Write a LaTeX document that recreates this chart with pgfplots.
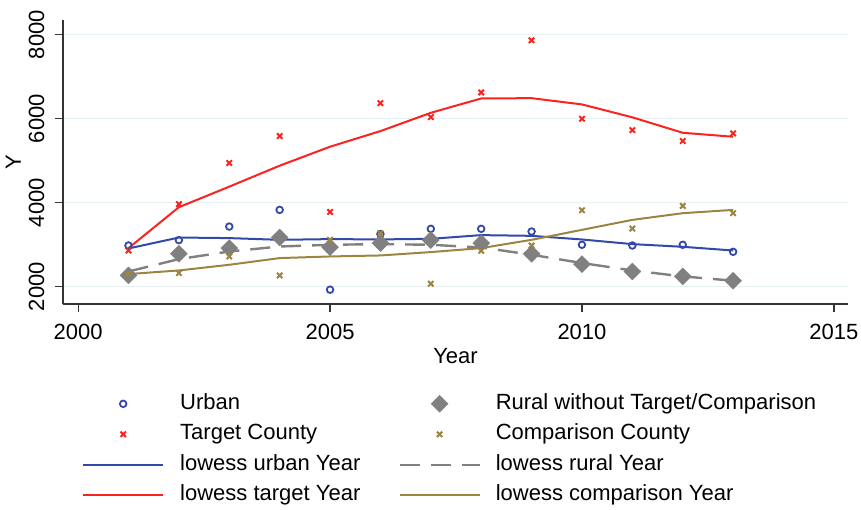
\documentclass[border=0pt]{standalone}
\usepackage{fontspec}
\setmainfont{Liberation Sans}
\usepackage{pgfplots}
\pgfplotsset{compat=1.18}
\definecolor{urb}{RGB}{52,72,170}
\definecolor{tgt}{RGB}{250,35,30}
\definecolor{rur}{RGB}{128,128,128}
\definecolor{cmp}{RGB}{156,132,66}
\definecolor{grd}{RGB}{232,241,244}
\newcommand\fs{\fontsize{22}{26}\selectfont}

\begin{document}
\begin{tikzpicture}
\path[use as bounding box] (-63pt,-205pt) rectangle (798pt,304pt);
\begin{axis}[
  at={(0pt,0pt)}, anchor=south west,
  scale only axis, width=785pt, height=284pt,
  xmin=1999.7, xmax=2015.28, ymin=1588, ymax=8350,
  axis lines=left, axis line style={-, line width=1.2pt, black!80},
  xtick={2000,2005,2010,2015}, ytick={2000,4000,6000,8000},
  tick align=outside, major tick length=8pt,
  tick style={line width=1.2pt, black!80},
  ymajorgrids, grid style={grd, line width=1.5pt},
  /pgf/number format/1000 sep={}, /pgf/number format/assume math mode=true,
  ticklabel style={font=\fs},
  xticklabel style={anchor=base, yshift=-27pt},
  yticklabel style={rotate=90, anchor=base, yshift=11pt},
  xlabel=Year, ylabel=Y, label style={font=\fs},
  xlabel style={at={(axis description cs:0.5,0)}, anchor=base, yshift=-59pt},
  ylabel style={at={(axis description cs:0,0.5)}, anchor=base, yshift=42pt},
  legend image code/.code={%
    \draw[mark repeat=2,mark phase=2,#1] plot coordinates {(0pt,0pt) (40pt,0pt) (80pt,0pt)};},
  legend columns=2, legend cell align=left,
  legend style={at={(0.0242,-0.312)}, anchor=north west, draw=none, fill=none,
    inner sep=0pt, font=\fs, row sep=8.5pt,
    nodes={inner sep=0pt, text height=16.5pt, text depth=5.5pt},
    /tikz/column 1/.style={column sep=16pt},
    /tikz/column 2/.style={column sep=38pt},
    /tikz/column 3/.style={column sep=15pt}},
]
% scatter: Urban
\addplot[only marks, mark=o, mark size=3.3pt, draw=urb, line width=1.8pt] coordinates {
 (2001,2981) (2002,3109) (2003,3432) (2004,3829) (2005,1929) (2006,3252) (2007,3378)
 (2008,3378) (2009,3314) (2010,2998) (2011,2981) (2012,2998) (2013,2831)};
% scatter: Rural without Target/Comparison
\addplot[only marks, mark=square*, mark size=6pt, mark options={rotate=45}, draw=rur, fill=rur] coordinates {
 (2001,2268) (2002,2784) (2003,2919) (2004,3171) (2005,2943) (2006,3038) (2007,3110)
 (2008,3038) (2009,2784) (2010,2539) (2011,2363) (2012,2245) (2013,2143)};
% scatter: Target County
\addplot[only marks, mark=x, mark size=3.8pt, draw=tgt, line width=2pt] coordinates {
 (2001,2862) (2002,3964) (2003,4945) (2004,5587) (2005,3781) (2006,6371) (2007,6038)
 (2008,6625) (2009,7867) (2010,5998) (2011,5729) (2012,5468) (2013,5650)};
% scatter: Comparison County
\addplot[only marks, mark=x, mark size=3.8pt, draw=cmp, line width=2pt] coordinates {
 (2001,2309) (2002,2325) (2003,2720) (2004,2268) (2005,3116) (2006,3275) (2007,2071)
 (2008,2855) (2009,2981) (2010,3821) (2011,3385) (2012,3924) (2013,3750)};
% lowess curves
\addplot[draw=urb, line width=2pt, no marks] coordinates {
 (2001,2910) (2002,3171) (2003,3157) (2004,3116) (2005,3133) (2006,3126) (2007,3140)
 (2008,3228) (2009,3211) (2010,3124) (2011,3014) (2012,2950) (2013,2862)};
\addplot[draw=rur, line width=2.4pt, no marks, dash pattern=on 20pt off 11pt] coordinates {
 (2001,2363) (2002,2657) (2003,2838) (2004,2957) (2005,2998) (2006,3014) (2007,2998)
 (2008,2934) (2009,2760) (2010,2563) (2011,2387) (2012,2245) (2013,2143)};
\addplot[draw=tgt, line width=2pt, no marks] coordinates {
 (2001,2919) (2002,3893) (2003,4382) (2004,4881) (2005,5333) (2006,5705) (2007,6140)
 (2008,6482) (2009,6489) (2010,6340) (2011,6033) (2012,5665) (2013,5570)};
\addplot[draw=cmp, line width=2pt, no marks] coordinates {
 (2001,2301) (2002,2387) (2003,2522) (2004,2681) (2005,2720) (2006,2744) (2007,2824)
 (2008,2919) (2009,3116) (2010,3354) (2011,3591) (2012,3750) (2013,3829)};
\legend{Urban, Rural without Target/Comparison, Target County, Comparison County,
 lowess urban Year, lowess rural Year, lowess target Year, lowess comparison Year}
\end{axis}
\end{tikzpicture}
\end{document}
